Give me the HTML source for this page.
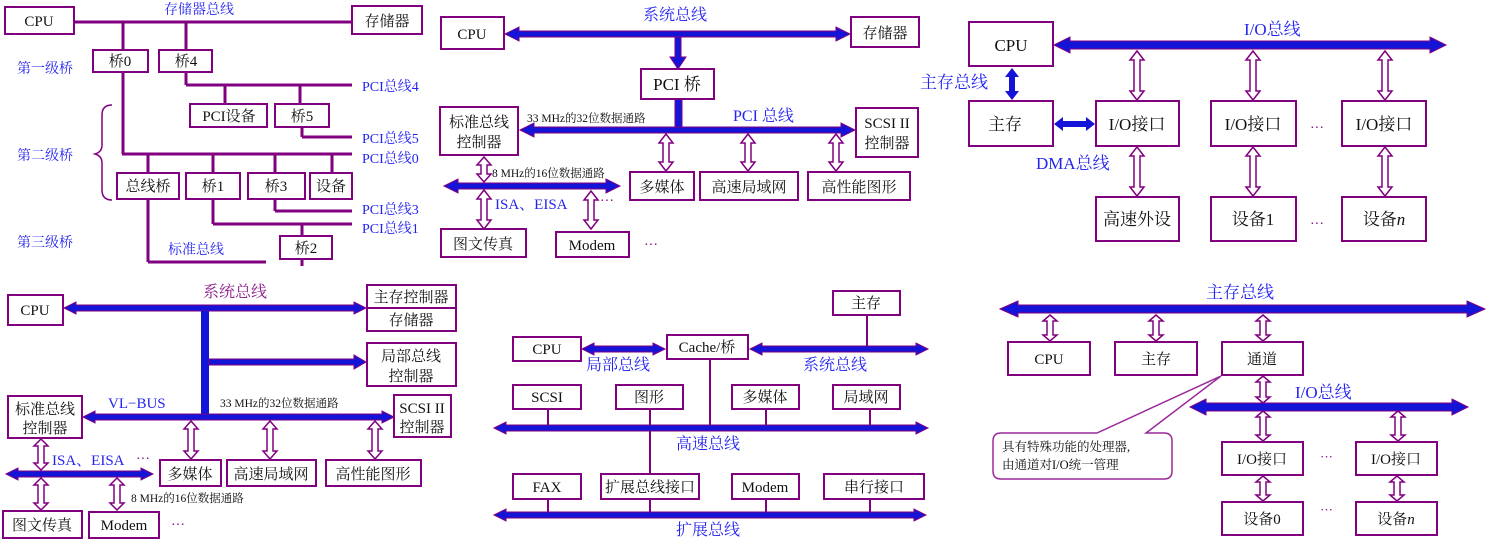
<!DOCTYPE html>
<html><head><meta charset="utf-8"><style>
html,body{margin:0;padding:0;background:#fff;}
svg{display:block;font-family:"Liberation Serif","Noto Serif CJK SC","Noto Sans CJK SC",serif;}
.b{fill:#fff;stroke:#800080;stroke-width:2}
.l{stroke:#800080;stroke-width:3;fill:none}
.t{fill:#111;font-size:15px;text-anchor:middle}
.s{fill:#111;font-size:12px}
.bl{fill:#2424f0;font-size:15px}
.pu{fill:#8a1a8a;font-size:15px}
.bus{fill:#1414d8;stroke:#800080;stroke-width:1}
.h{fill:#fff;stroke:#800080;stroke-width:1.5}
</style></head><body>
<svg width="1503" height="542" viewBox="0 0 1503 542">
<!-- ============ Panel 1 ============ -->
<g>
<line class="l" x1="74" y1="22" x2="352" y2="22"/>
<line class="l" x1="123" y1="22" x2="123" y2="154"/>
<line class="l" x1="186" y1="22" x2="186" y2="85"/>
<line class="l" x1="186" y1="85" x2="352" y2="85"/>
<line class="l" x1="225" y1="85" x2="225" y2="104"/>
<line class="l" x1="300" y1="85" x2="300" y2="104"/>
<line class="l" x1="302" y1="127" x2="302" y2="137"/>
<line class="l" x1="302" y1="137" x2="352" y2="137"/>
<line class="l" x1="122" y1="154" x2="352" y2="154"/>
<line class="l" x1="148" y1="154" x2="148" y2="173"/>
<line class="l" x1="213" y1="154" x2="213" y2="173"/>
<line class="l" x1="275" y1="154" x2="275" y2="173"/>
<line class="l" x1="332" y1="154" x2="332" y2="173"/>
<line class="l" x1="275" y1="199" x2="275" y2="211"/>
<line class="l" x1="275" y1="211" x2="352" y2="211"/>
<line class="l" x1="213" y1="199" x2="213" y2="224"/>
<line class="l" x1="213" y1="224" x2="352" y2="224"/>
<line class="l" x1="302" y1="224" x2="302" y2="236"/>
<line class="l" x1="302" y1="259" x2="302" y2="266"/>
<line class="l" x1="148" y1="199" x2="148" y2="262"/>
<line class="l" x1="148" y1="262" x2="266" y2="262"/>
<rect class="b" x="5" y="7" width="69" height="27"/><text class="t" x="39" y="26">CPU</text>
<rect class="b" x="352" y="6" width="70" height="28"/><text class="t" x="387" y="26">存储器</text>
<text class="bl" x="164" y="14" style="font-size:14px">存储器总线</text>
<rect class="b" x="93" y="50" width="55" height="22"/><text class="t" x="120" y="66">桥0</text>
<rect class="b" x="159" y="50" width="53" height="22"/><text class="t" x="186" y="66">桥4</text>
<text class="bl" x="17" y="73" style="font-size:14px">第一级桥</text>
<text class="bl" x="362" y="91" style="font-size:14px">PCI总线4</text>
<rect class="b" x="190" y="104" width="77" height="23"/><text class="t" x="229" y="121">PCI设备</text>
<rect class="b" x="275" y="104" width="54" height="23"/><text class="t" x="302" y="121">桥5</text>
<text class="bl" x="362" y="143" style="font-size:14px">PCI总线5</text>
<text class="bl" x="362" y="163" style="font-size:14px">PCI总线0</text>
<path d="M112 105 Q102 105 102 115 L102 145 Q102 152 95 154 Q102 156 102 163 L102 190 Q102 200 112 200" fill="none" stroke="#800080" stroke-width="1.5"/>
<text class="bl" x="17" y="160" style="font-size:14px">第二级桥</text>
<rect class="b" x="117" y="173" width="62" height="26"/><text class="t" x="148" y="191">总线桥</text>
<rect class="b" x="186" y="173" width="54" height="26"/><text class="t" x="213" y="191">桥1</text>
<rect class="b" x="248" y="173" width="57" height="26"/><text class="t" x="276" y="191">桥3</text>
<rect class="b" x="310" y="173" width="42" height="26"/><text class="t" x="331" y="191">设备</text>
<text class="bl" x="362" y="214" style="font-size:14px">PCI总线3</text>
<text class="bl" x="362" y="233" style="font-size:14px">PCI总线1</text>
<rect class="b" x="280" y="236" width="52" height="23"/><text class="t" x="306" y="253">桥2</text>
<text class="bl" x="168" y="254" style="font-size:14px">标准总线</text>
<text class="bl" x="17" y="247" style="font-size:14px">第三级桥</text>
</g>
<!-- ============ Panel 2 ============ -->
<g>
<polygon class="bus" points="505,34 519,27 519,31 836,31 836,27 850,34 836,41 836,37 519,37 519,41"/>
<polygon class="bus" points="675,37 681,37 681,57 686,57 678,69 670,57 675,57"/>
<rect x="675" y="99" width="7" height="30" fill="#1414d8" stroke="#800080" stroke-width="1"/>
<polygon class="bus" points="520,130 534,123 534,127 841,127 841,123 855,130 841,137 841,133 534,133 534,137"/>
<rect class="b" x="441" y="17" width="63" height="32"/><text class="t" x="472" y="39">CPU</text>
<text class="bl" x="643" y="20" style="font-size:16px">系统总线</text>
<rect class="b" x="851" y="17" width="68" height="30"/><text class="t" x="885" y="38">存储器</text>
<rect class="b" x="641" y="69" width="73" height="30"/><text class="t" x="677" y="90" style="font-size:17px">PCI 桥</text>
<text class="s" x="527" y="122" style="font-size:11.5px">33 MHz的32位数据通路</text>
<text class="bl" x="733" y="121" style="font-size:16px">PCI 总线</text>
<rect class="b" x="856" y="108" width="62" height="49"/><text class="t" x="887" y="128">SCSI II</text><text class="t" x="887" y="148">控制器</text>
<rect class="b" x="440" y="107" width="78" height="48"/><text class="t" x="479" y="127">标准总线</text><text class="t" x="479" y="147">控制器</text>
<polygon class="h" points="666,134 673,143 669,143 669,162 673,162 666,171 659,162 663,162 663,143 659,143"/>
<polygon class="h" points="748,134 755,143 751,143 751,162 755,162 748,171 741,162 745,162 745,143 741,143"/>
<polygon class="h" points="836,134 843,143 839,143 839,162 843,162 836,171 829,162 833,162 833,143 829,143"/>
<rect class="b" x="630" y="172" width="64" height="28"/><text class="t" x="662" y="192">多媒体</text>
<rect class="b" x="700" y="172" width="98" height="28"/><text class="t" x="749" y="192">高速局域网</text>
<rect class="b" x="808" y="172" width="102" height="28"/><text class="t" x="859" y="192">高性能图形</text>
<polygon class="bus" points="444,186 458,179 458,183 606,183 606,179 620,186 606,193 606,189 458,189 458,193"/>
<polygon class="h" points="484,157 491,165 487,165 487,174 491,174 484,182 477,174 481,174 481,165 477,165"/>
<text class="s" x="492" y="177" style="font-size:11.5px">8 MHz的16位数据通路</text>
<polygon class="h" points="484,190 491,199 487,199 487,220 491,220 484,229 477,220 481,220 481,199 477,199"/>
<polygon class="h" points="591,191 598,200 594,200 594,220 598,220 591,229 584,220 588,220 588,200 584,200"/>
<text class="bl" x="495" y="209">ISA、EISA</text>
<text class="s" x="600" y="205" style="fill:#800080;font-size:14px">···</text>
<rect class="b" x="441" y="229" width="85" height="28"/><text class="t" x="483" y="249">图文传真</text>
<rect class="b" x="556" y="232" width="73" height="25"/><text class="t" x="592" y="250">Modem</text>
<text class="s" x="644" y="249" style="fill:#800080;font-size:14px">···</text>
</g>
<!-- ============ Panel 3 ============ -->
<g>
<polygon class="bus" points="1054,45 1070,37 1070,41 1430,41 1430,37 1446,45 1430,53 1430,49 1070,49 1070,53"/>
<polygon points="1012,68 1019,77 1015,77 1015,91 1019,91 1012,100 1005,91 1009,91 1009,77 1005,77" fill="#1414d8"/>
<polygon points="1054,124 1063,117 1063,121 1086,121 1086,117 1095,124 1086,131 1086,127 1063,127 1063,131" fill="#1414d8"/>
<rect class="b" x="969" y="22" width="84" height="44"/><text class="t" x="1011" y="51" style="font-size:17px">CPU</text>
<text class="bl" x="1244" y="35" style="font-size:17px">I/O总线</text>
<text class="bl" x="920" y="88" style="font-size:17px">主存总线</text>
<rect class="b" x="969" y="101" width="84" height="45"/><text class="t" x="1005" y="130" style="font-size:17px">主存</text>
<text class="bl" x="1036" y="169" style="font-size:17px">DMA总线</text>
<rect class="b" x="1096" y="101" width="83" height="45"/><text class="t" x="1137" y="130" style="font-size:17px">I/O接口</text>
<rect class="b" x="1211" y="101" width="85" height="45"/><text class="t" x="1253" y="130" style="font-size:17px">I/O接口</text>
<rect class="b" x="1342" y="101" width="84" height="45"/><text class="t" x="1384" y="130" style="font-size:17px">I/O接口</text>
<polygon class="h" points="1137,51 1144,60 1140,60 1140,91 1144,91 1137,100 1130,91 1134,91 1134,60 1130,60"/>
<polygon class="h" points="1253,51 1260,60 1256,60 1256,91 1260,91 1253,100 1246,91 1250,91 1250,60 1246,60"/>
<polygon class="h" points="1385,51 1392,60 1388,60 1388,91 1392,91 1385,100 1378,91 1382,91 1382,60 1378,60"/>
<polygon class="h" points="1137,147 1144,156 1140,156 1140,187 1144,187 1137,196 1130,187 1134,187 1134,156 1130,156"/>
<polygon class="h" points="1253,147 1260,156 1256,156 1256,187 1260,187 1253,196 1246,187 1250,187 1250,156 1246,156"/>
<polygon class="h" points="1385,147 1392,156 1388,156 1388,187 1392,187 1385,196 1378,187 1382,187 1382,156 1378,156"/>
<rect class="b" x="1096" y="197" width="83" height="44"/><text class="t" x="1137" y="225" style="font-size:17px">高速外设</text>
<rect class="b" x="1211" y="197" width="85" height="44"/><text class="t" x="1253" y="225" style="font-size:17px">设备1</text>
<rect class="b" x="1342" y="197" width="84" height="44"/><text class="t" x="1384" y="225" style="font-size:17px">设备<tspan font-style="italic">n</tspan></text>
<text class="s" x="1310" y="132" style="fill:#800080;font-size:14px">···</text>
<text class="s" x="1310" y="228" style="fill:#800080;font-size:14px">···</text>
</g>
<!-- ============ Panel 4 ============ -->
<g>
<polygon class="bus" points="64,308 76,302 76,305 354,305 354,302 366,308 354,314 354,311 76,311 76,314"/>
<rect x="201" y="311" width="8" height="104" fill="#1414d8"/>
<polygon class="bus" points="209,359 354,359 354,355 366,362 354,369 354,365 209,365"/>
<polygon class="bus" points="83,417 95,411 95,414 382,414 382,411 394,417 382,423 382,420 95,420 95,423"/>
<rect class="b" x="8" y="295" width="55" height="30"/><text class="t" x="35" y="315">CPU</text>
<text class="pu" x="203" y="297" style="font-size:16px">系统总线</text>
<rect class="b" x="367" y="285" width="89" height="46"/><line x1="367" y1="308" x2="456" y2="308" stroke="#800080" stroke-width="2"/>
<text class="t" x="411" y="302">主存控制器</text><text class="t" x="411" y="325">存储器</text>
<rect class="b" x="367" y="343" width="89" height="43"/><text class="t" x="411" y="361">局部总线</text><text class="t" x="411" y="381">控制器</text>
<text class="bl" x="108" y="408">VL−BUS</text>
<text class="s" x="220" y="407" style="font-size:11.5px">33 MHz的32位数据通路</text>
<rect class="b" x="394" y="395" width="57" height="42"/><text class="t" x="422" y="413">SCSI II</text><text class="t" x="422" y="432">控制器</text>
<rect class="b" x="8" y="396" width="74" height="42"/><text class="t" x="45" y="414">标准总线</text><text class="t" x="45" y="433">控制器</text>
<polygon class="h" points="191,421 198,429 194,429 194,451 198,451 191,459 184,451 188,451 188,429 184,429"/>
<polygon class="h" points="270,421 277,429 273,429 273,451 277,451 270,459 263,451 267,451 267,429 263,429"/>
<polygon class="h" points="375,421 382,429 378,429 378,451 382,451 375,459 368,451 372,451 372,429 368,429"/>
<rect class="b" x="160" y="460" width="61" height="26"/><text class="t" x="190" y="479">多媒体</text>
<rect class="b" x="227" y="460" width="89" height="26"/><text class="t" x="271" y="479">高速局域网</text>
<rect class="b" x="326" y="460" width="95" height="26"/><text class="t" x="373" y="479">高性能图形</text>
<polygon class="bus" points="6,474 18,468 18,471 141,471 141,468 153,474 141,480 141,477 18,477 18,480"/>
<polygon class="h" points="41,439 48,446 44,446 44,463 48,463 41,470 34,463 38,463 38,446 34,446"/>
<polygon class="h" points="41,478 48,485 44,485 44,503 48,503 41,510 34,503 38,503 38,485 34,485"/>
<polygon class="h" points="117,478 124,485 120,485 120,503 124,503 117,510 110,503 114,503 114,485 110,485"/>
<text class="bl" x="52" y="465">ISA、EISA</text>
<text class="s" x="136" y="463" style="fill:#800080;font-size:14px">···</text>
<text class="s" x="131" y="502" style="font-size:11.5px">8 MHz的16位数据通路</text>
<rect class="b" x="3" y="511" width="79" height="27"/><text class="t" x="42" y="530">图文传真</text>
<rect class="b" x="89" y="512" width="70" height="26"/><text class="t" x="124" y="530">Modem</text>
<text class="s" x="171" y="529" style="fill:#800080;font-size:14px">···</text>
</g>
<!-- ============ Panel 5 ============ -->
<g>
<line x1="867" y1="315" x2="867" y2="349" stroke="#800080" stroke-width="2"/>
<line x1="710" y1="359" x2="710" y2="428" stroke="#800080" stroke-width="2"/>
<line x1="548" y1="409" x2="548" y2="428" stroke="#800080" stroke-width="2"/>
<line x1="650" y1="409" x2="650" y2="474" stroke="#800080" stroke-width="2"/>
<line x1="766" y1="409" x2="766" y2="428" stroke="#800080" stroke-width="2"/>
<line x1="870" y1="409" x2="870" y2="428" stroke="#800080" stroke-width="2"/>
<line x1="548" y1="499" x2="548" y2="515" stroke="#800080" stroke-width="2"/>
<line x1="650" y1="499" x2="650" y2="515" stroke="#800080" stroke-width="2"/>
<line x1="766" y1="499" x2="766" y2="515" stroke="#800080" stroke-width="2"/>
<line x1="870" y1="499" x2="870" y2="515" stroke="#800080" stroke-width="2"/>
<polygon class="bus" points="582,349 594,343 594,346 653,346 653,343 665,349 653,355 653,352 594,352 594,355"/>
<polygon class="bus" points="750,349 762,343 762,346 916,346 916,343 928,349 916,355 916,352 762,352 762,355"/>
<polygon class="bus" points="494,428 506,422 506,425 916,425 916,422 928,428 916,434 916,431 506,431 506,434"/>
<polygon class="bus" points="494,515 506,509 506,512 914,512 914,509 926,515 914,521 914,518 506,518 506,521"/>
<rect class="b" x="513" y="337" width="68" height="24"/><text class="t" x="547" y="354">CPU</text>
<rect class="b" x="667" y="335" width="81" height="24"/><text class="t" x="707" y="352">Cache/桥</text>
<rect class="b" x="833" y="291" width="67" height="24"/><text class="t" x="866" y="308">主存</text>
<text class="bl" x="586" y="370" style="font-size:16px">局部总线</text>
<text class="bl" x="803" y="370" style="font-size:16px">系统总线</text>
<rect class="b" x="513" y="385" width="68" height="24"/><text class="t" x="547" y="402">SCSI</text>
<rect class="b" x="616" y="385" width="67" height="24"/><text class="t" x="649" y="402">图形</text>
<rect class="b" x="732" y="385" width="67" height="24"/><text class="t" x="765" y="402">多媒体</text>
<rect class="b" x="833" y="385" width="67" height="24"/><text class="t" x="866" y="402">局域网</text>
<text class="bl" x="676" y="449" style="font-size:16px">高速总线</text>
<rect class="b" x="513" y="474" width="68" height="25"/><text class="t" x="547" y="492">FAX</text>
<rect class="b" x="601" y="474" width="98" height="25"/><text class="t" x="650" y="492">扩展总线接口</text>
<rect class="b" x="732" y="474" width="67" height="25"/><text class="t" x="765" y="492">Modem</text>
<rect class="b" x="824" y="474" width="100" height="25"/><text class="t" x="874" y="492">串行接口</text>
<text class="bl" x="676" y="535" style="font-size:16px">扩展总线</text>
</g>
<!-- ============ Panel 6 ============ -->
<g>
<polygon class="bus" points="1000,309 1018,301 1018,305 1467,305 1467,301 1485,309 1467,317 1467,313 1018,313 1018,317"/>
<polygon class="bus" points="1190,407 1206,399 1206,403 1452,403 1452,399 1468,407 1452,415 1452,411 1206,411 1206,415"/>
<text class="bl" x="1206" y="298" style="font-size:17px">主存总线</text>
<text class="bl" x="1295" y="398" style="font-size:17px">I/O总线</text>
<polygon class="h" points="1050,315 1057,321 1053,321 1053,335 1057,335 1050,341 1043,335 1047,335 1047,321 1043,321"/>
<polygon class="h" points="1156,315 1163,321 1159,321 1159,335 1163,335 1156,341 1149,335 1153,335 1153,321 1149,321"/>
<polygon class="h" points="1263,315 1270,321 1266,321 1266,335 1270,335 1263,341 1256,335 1260,335 1260,321 1256,321"/>
<rect class="b" x="1008" y="342" width="82" height="33"/><text class="t" x="1049" y="364">CPU</text>
<rect class="b" x="1115" y="342" width="82" height="33"/><text class="t" x="1156" y="364">主存</text>
<rect class="b" x="1222" y="342" width="81" height="33"/><text class="t" x="1262" y="364">通道</text>
<polygon class="h" points="1263,376 1270,382 1266,382 1266,397 1270,397 1263,403 1256,397 1260,397 1260,382 1256,382"/>
<polygon class="h" points="1263,411 1270,417 1266,417 1266,435 1270,435 1263,441 1256,435 1260,435 1260,417 1256,417"/>
<polygon class="h" points="1398,411 1405,417 1401,417 1401,435 1405,435 1398,441 1391,435 1395,435 1395,417 1391,417"/>
<rect class="b" x="1222" y="442" width="81" height="33"/><text class="t" x="1262" y="464">I/O接口</text>
<rect class="b" x="1356" y="442" width="81" height="33"/><text class="t" x="1396" y="464">I/O接口</text>
<polygon class="h" points="1263,476 1270,482 1266,482 1266,495 1270,495 1263,501 1256,495 1260,495 1260,482 1256,482"/>
<polygon class="h" points="1397,476 1404,482 1400,482 1400,495 1404,495 1397,501 1390,495 1394,495 1394,482 1390,482"/>
<rect class="b" x="1222" y="502" width="81" height="33"/><text class="t" x="1262" y="524">设备0</text>
<rect class="b" x="1356" y="502" width="81" height="33"/><text class="t" x="1396" y="524">设备<tspan font-style="italic">n</tspan></text>
<text class="s" x="1320" y="461" style="fill:#800080;font-size:13px">···</text>
<text class="s" x="1320" y="514" style="fill:#800080;font-size:13px">···</text>
<path d="M1001 433 L1097 433 L1221 376 L1146 433 L1164 433 Q1172 433 1172 441 L1172 471 Q1172 479 1164 479 L1001 479 Q993 479 993 471 L993 441 Q993 433 1001 433 Z" fill="#fff" stroke="#9a2a9a" stroke-width="1.5"/>
<text class="s" x="1002" y="451" style="font-size:12.5px">具有特殊功能的处理器,</text>
<text class="s" x="1002" y="469" style="font-size:12.5px">由通道对I/O统一管理</text>
</g>
</svg>
</body></html>
